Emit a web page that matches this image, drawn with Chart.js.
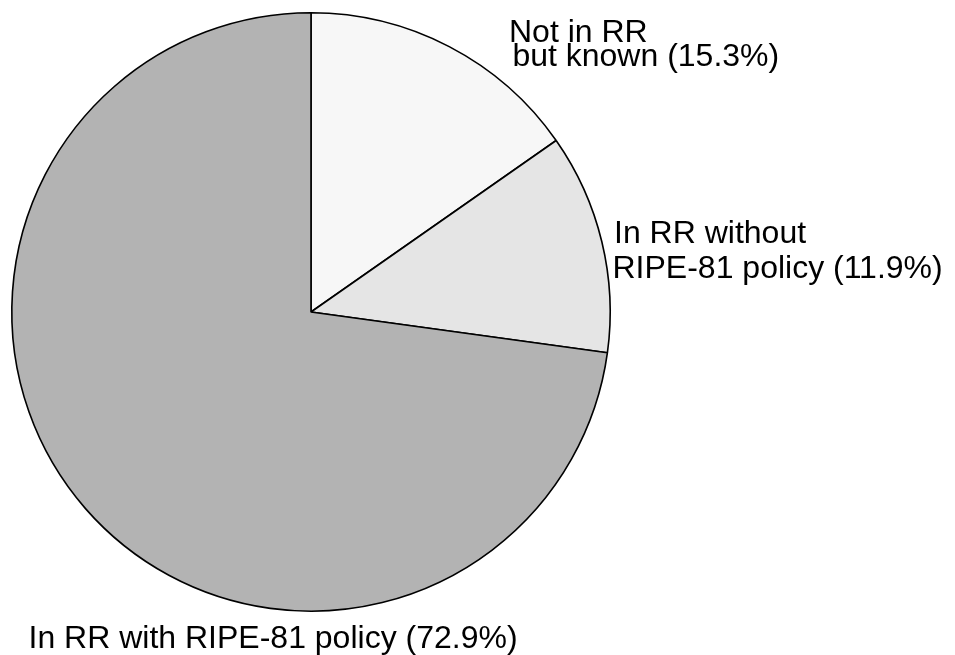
<!DOCTYPE html>
<html>
<head>
<meta charset="utf-8">
<script src="https://cdn.jsdelivr.net/npm/chart.js@4"></script>
<style>
  html, body { margin: 0; padding: 0; background: #ffffff; }
  #wrap { width: 955px; height: 655px; position: relative; }
</style>
</head>
<body>
<div id="wrap"><canvas id="c" width="955" height="655"></canvas></div>
<script>
// ---- data ----
const categories = [
  "Not in RR but known",
  "In RR without RIPE-81 policy",
  "In RR with RIPE-81 policy"
];
const shares = [15.3, 11.9, 72.9];
const sliceColors = ["#f7f7f7", "#e5e5e5", "#b3b3b3"];
const labelLines = [
  ["Not in RR", " but known (15.3%)"],
  ["In RR without", "RIPE-81 policy (11.9%)"],
  ["In RR with RIPE-81 policy (72.9%)"]
];

// label placement (pixels on canvas): per line [x, baseline]
const labelPlacement = [
  [[509, 42], [503.5, 65.5]],
  [[614, 243], [612.5, 278]],
  [[28.5, 647.5]]
];

const labelPlugin = {
  id: 'sliceLabels',
  afterDraw(chart) {
    const ctx = chart.ctx;
    ctx.save();
    ctx.font = '32px "Liberation Sans", Arial, Helvetica, sans-serif';
    ctx.fillStyle = '#000000';
    ctx.textAlign = 'left';
    ctx.textBaseline = 'alphabetic';
    labelLines.forEach((lines, i) => {
      lines.forEach((txt, j) => {
        const p = labelPlacement[i][j];
        ctx.fillText(txt, p[0], p[1]);
      });
    });
    ctx.restore();
  }
};

new Chart(document.getElementById('c'), {
  type: 'pie',
  data: {
    labels: categories,
    datasets: [{
      data: shares,
      backgroundColor: sliceColors,
      borderColor: '#000000',
      borderWidth: 1.6,
      borderAlign: 'center',
      hoverOffset: 0
    }]
  },
  options: {
    responsive: false,
    animation: false,
    devicePixelRatio: 1,
    rotation: 0,
    layout: { padding: { left: 11, top: 12, right: 344, bottom: 43 } },
    plugins: {
      legend: { display: false },
      tooltip: { enabled: false },
      title: { display: false }
    }
  },
  plugins: [labelPlugin]
});
</script>
</body>
</html>
